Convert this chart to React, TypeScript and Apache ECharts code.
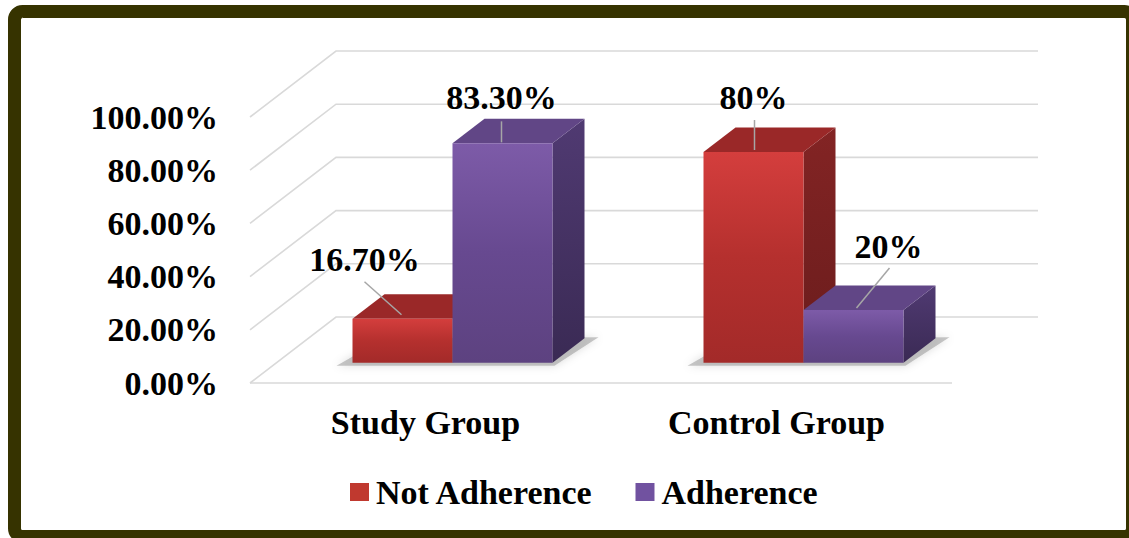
import React, { useEffect, useRef } from "react";
import * as echarts from "echarts";

const CATEGORIES = ["Study Group", "Control Group"];
const SERIES_NAMES = ["Not Adherence", "Adherence"];
const NOT_ADHERENCE = [16.7, 80];
const ADHERENCE = [83.3, 20];
const VALUE_LABELS = [
  ["16.70%", "80%"],
  ["83.30%", "20%"],
];
const Y_TICKS = [0, 20, 40, 60, 80, 100];

// layout / style constants (not data)
const FONT = "'Liberation Serif', 'Times New Roman', serif";
const FRONT_DX = 27;
const FRONT_DY = -20.3;
const BAR_DX = 32;
const BAR_DY = -24.5;
const DEPTH_DX = 86;
const DEPTH_DY = -66;
const BAR_RATIO = 100 / 351;
const GRID_COLOR = "#d9d9d9";
const LEADER_COLOR = "#a6a6a6";
// label center offset / leader start / leader end, relative to bar's front-top center
const LABEL_GEOM = [
  [
    { t: [-38, -59], a: [-38, -37], b: [-1, -4] },
    { t: [0, -55], a: [1, -32], b: [1, -2] },
  ],
  [
    { t: [-1, -46], a: [-1, -22], b: [-1, -1] },
    { t: [35, -64], a: [36, -42], b: [3, -2] },
  ],
];

const PALETTE = [
  {
    legend: "#c0392f",
    front: ["#d43e3d", "#b5302e", "#a32a29"],
    top: "#9a2828",
    side: ["#832424", "#6a1c1c"],
  },
  {
    legend: "#7152a0",
    front: ["#7d5ba8", "#674990", "#5d4280"],
    top: "#614686",
    side: ["#503a72", "#3a2a54"],
  },
];

function grad(stops: string[]) {
  return new echarts.graphic.LinearGradient(
    0,
    0,
    0,
    1,
    stops.map((c, i) => ({ offset: i / (stops.length - 1), color: c }))
  );
}

function barRender(sIdx: number) {
  return (params: any, api: any) => {
    const cat = api.value(0);
    const val = api.value(1);
    const base = api.coord([cat, 0]);
    const topP = api.coord([cat, val]);
    const band = api.coord([1, 0])[0] - api.coord([0, 0])[0];
    const w = band * BAR_RATIO;
    const x0 = base[0] - w + sIdx * w + FRONT_DX;
    const x1 = x0 + w;
    const yb = base[1] + FRONT_DY;
    const yt = yb - (base[1] - topP[1]) * 0.99;
    const pal = PALETTE[sIdx];
    const cx = (x0 + x1) / 2;
    const g = LABEL_GEOM[sIdx][cat];
    return {
      type: "group",
      children: [
        {
          type: "polygon",
          shape: {
            points: [
              [x1, yt],
              [x1 + BAR_DX, yt + BAR_DY],
              [x1 + BAR_DX, yb + BAR_DY],
              [x1, yb],
            ],
          },
          style: { fill: grad(pal.side) },
        },
        {
          type: "polygon",
          shape: {
            points: [
              [x0, yt],
              [x1, yt],
              [x1 + BAR_DX, yt + BAR_DY],
              [x0 + BAR_DX, yt + BAR_DY],
            ],
          },
          style: { fill: pal.top },
        },
        {
          type: "rect",
          shape: { x: x0, y: yt, width: w, height: yb - yt },
          style: { fill: grad(pal.front) },
        },
        {
          type: "line",
          shape: {
            x1: cx + g.a[0],
            y1: yt + g.a[1],
            x2: cx + g.b[0],
            y2: yt + g.b[1],
          },
          style: { stroke: LEADER_COLOR, lineWidth: 1.5 },
        },
        {
          type: "text",
          style: {
            text: VALUE_LABELS[sIdx][cat],
            x: cx + g.t[0],
            y: yt + g.t[1],
            align: "center",
            verticalAlign: "middle",
            fontFamily: FONT,
            fontWeight: "bold",
            fontSize: 34,
            fill: "#000",
          },
        },
      ],
    };
  };
}

function shadowRender(params: any, api: any) {
  const cat = api.value(0);
  const base = api.coord([cat, 0]);
  const band = api.coord([1, 0])[0] - api.coord([0, 0])[0];
  const w = band * BAR_RATIO;
  const x0 = base[0] - w + FRONT_DX;
  const x1 = x0 + 2 * w;
  const yb = base[1] + FRONT_DY;
  return {
    type: "polygon",
    shape: {
      points: [
        [x0 - 16, yb + 3],
        [x1 + 2, yb + 3],
        [x1 + BAR_DX + 14, yb + BAR_DY - 1],
        [x0 + BAR_DX, yb + BAR_DY],
      ],
    },
    style: {
      fill: "rgba(130,130,130,0.45)",
      shadowBlur: 8,
      shadowColor: "rgba(0,0,0,0.3)",
    },
  };
}

function gridRender(params: any, api: any) {
  const v = api.value(1);
  const band = api.coord([1, v])[0] - api.coord([0, v])[0];
  const p0 = api.coord([0, v]);
  const p1 = api.coord([1, v]);
  const xl = p0[0] - band / 2;
  const xr = p1[0] + band / 2;
  const y = p0[1];
  const children: any[] = [
    {
      type: "polyline",
      shape: {
        points: [
          [xl, y],
          [xl + DEPTH_DX, y + DEPTH_DY],
          [xr + DEPTH_DX, y + DEPTH_DY],
        ],
      },
      style: { stroke: GRID_COLOR, lineWidth: 1.6, fill: "none" },
    },
  ];
  if (v === 0) {
    children.push({
      type: "line",
      shape: { x1: xl, y1: y, x2: xr, y2: y },
      style: { stroke: GRID_COLOR, lineWidth: 1.6 },
    });
  }
  return { type: "group", children };
}

export default function App() {
  const ref = useRef<HTMLDivElement>(null);
  useEffect(() => {
    document.body.style.margin = "0";
    if (!ref.current) return;
    const chart = echarts.init(ref.current, undefined, { renderer: "svg" });
    const textStyle = {
      fontFamily: FONT,
      fontWeight: "bold" as const,
      fontSize: 34,
      color: "#000",
    };
    chart.setOption({
      animation: false,
      backgroundColor: "#fff",
      grid: { left: 250, right: 177, top: 117, bottom: 155 },
      xAxis: {
        type: "category",
        data: CATEGORIES,
        axisLine: { show: false },
        axisTick: { show: false },
        splitLine: { show: false },
        axisLabel: { ...textStyle, margin: 22 },
      },
      yAxis: {
        type: "value",
        min: 0,
        max: 100,
        interval: 20,
        axisLine: { show: false },
        axisTick: { show: false },
        splitLine: { show: false },
        axisLabel: {
          ...textStyle,
          margin: 32,
          formatter: (v: number) => v.toFixed(2) + "%",
        },
      },
      legend: {
        data: SERIES_NAMES,
        left: 345,
        top: 470,
        icon: "rect",
        itemWidth: 19,
        itemHeight: 18,
        itemGap: 42,
        textStyle: { ...textStyle, padding: [0, 0, 0, 2] },
      },
      graphic: [
        {
          type: "rect",
          shape: { x: 14.5, y: 11.5, width: 1118, height: 525, r: 8 },
          style: { fill: "none", stroke: "#363300", lineWidth: 13 },
          z: 100,
        },
      ],
      series: [
        {
          type: "custom",
          name: "grid",
          silent: true,
          data: Y_TICKS.map((v) => [0, v]),
          renderItem: gridRender,
          z: 1,
        },
        {
          type: "custom",
          name: "shadow",
          silent: true,
          data: CATEGORIES.map((_, i) => [i, 0]),
          renderItem: shadowRender,
          z: 2,
        },
        {
          type: "custom",
          name: SERIES_NAMES[0],
          data: NOT_ADHERENCE.map((v, i) => [i, v]),
          renderItem: barRender(0),
          itemStyle: { color: PALETTE[0].legend },
          z: 3,
        },
        {
          type: "custom",
          name: SERIES_NAMES[1],
          data: ADHERENCE.map((v, i) => [i, v]),
          renderItem: barRender(1),
          itemStyle: { color: PALETTE[1].legend },
          z: 4,
        },
      ],
    });
    return () => chart.dispose();
  }, []);
  return <div ref={ref} style={{ width: 1129, height: 538 }} />;
}
